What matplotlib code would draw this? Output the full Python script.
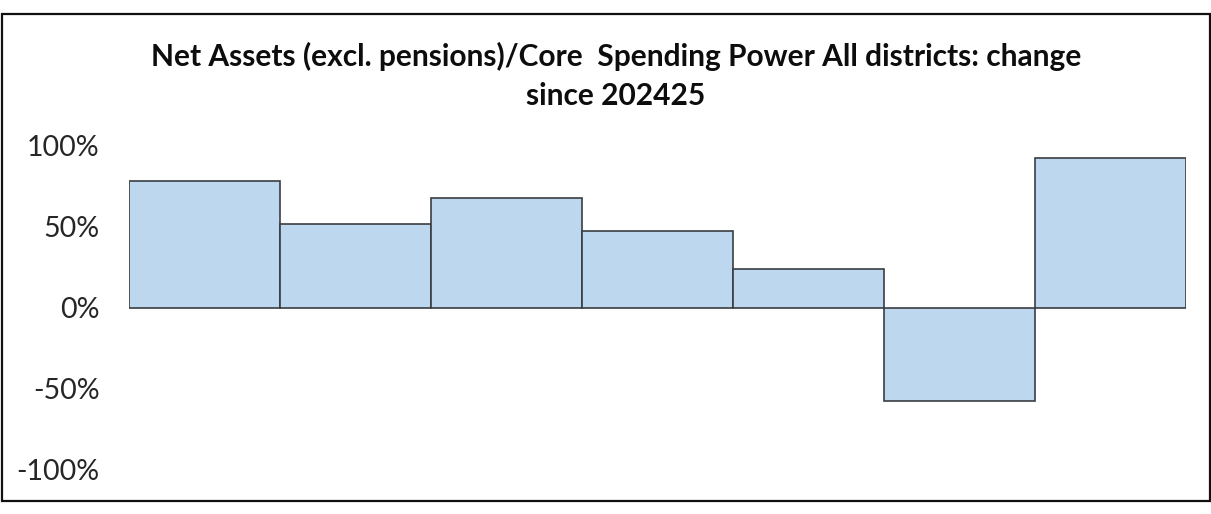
import matplotlib
matplotlib.use("Agg")
import matplotlib.pyplot as plt
from matplotlib.patches import Rectangle

# Change in net assets (excl. pensions) / core spending power, by district group
categories = ["1", "2", "3", "4", "5", "6", "7"]
values = [77.7, 51.4, 67.4, 47.0, 24.0, -57.5, 91.7]
y_ticks = [-100, -50, 0, 50, 100]
y_tick_labels = ["-100%", "-50%", "0%", "50%", "100%"]
title = "Net Assets (excl. pensions)/Core  Spending Power All districts: change\nsince 202425"

W, H = 1211, 514
fig = plt.figure(figsize=(W / 100, H / 100), dpi=100)
ax = fig.add_axes([129.3 / W, 1 - 470 / H, (1186.3 - 129.3) / W, (470 - 145) / H])

x = range(len(categories))
ax.bar(x, values, width=1.0, color="#BDD7EE", edgecolor="#3a3d42", linewidth=1.2)

ax.set_xlim(-0.5, len(categories) - 0.5)
ax.set_ylim(-100, 100)
ax.set_yticks(y_ticks)
ax.set_yticklabels(y_tick_labels, fontsize=20.5, family="Lato", color="#262626")
ax.set_xticks([])
ax.tick_params(axis="y", length=0, pad=21.5)
for s in ax.spines.values():
    s.set_visible(False)

fig.text(616 / W, 1 - 76 / H, title, ha="center", va="center", fontsize=21.5,
         fontweight="bold", family="Lato", color="#0d0d0d", linespacing=1.45)

# Outer frame around the chart
fig.patches.append(Rectangle((2 / W, 1 - 501 / H), 1208 / W, (501 - 13.5) / H,
                             transform=fig.transFigure, fill=False,
                             edgecolor="#111111", linewidth=1.6))

fig.savefig("out.png", dpi=100)
